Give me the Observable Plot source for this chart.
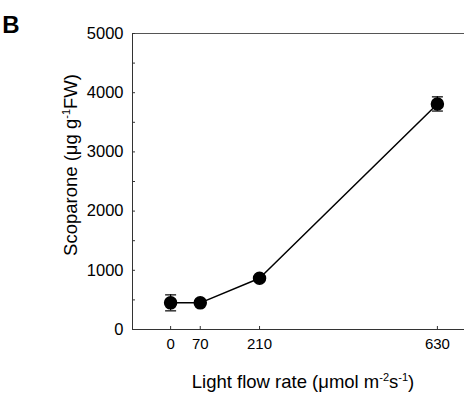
<!DOCTYPE html>
<html>
<head>
<meta charset="utf-8">
<script src="https://cdn.jsdelivr.net/npm/d3@7"></script>
<script src="https://cdn.jsdelivr.net/npm/@observablehq/plot@0.6"></script>
<style>
  html, body { margin: 0; padding: 0; background: #fff; }
  #chart { position: relative; width: 464px; height: 396px; }
  svg { font-family: "Liberation Sans", Arial, Helvetica, sans-serif; }
</style>
</head>
<body>
<div id="chart"></div>
<script>
// Data
const lightRates = [0, 70, 210, 630];
const scoparone = [450, 450, 866, 3810];
const scoparoneErr = [135, 20, 30, 120];
const xTickValues = [0, 70, 210, 630];
const yTickValues = [0, 1000, 2000, 3000, 4000, 5000];
const yMinorTickValues = [0, 500, 1000, 1500, 2000, 2500, 3000, 3500, 4000, 4500, 5000];

const data = lightRates.map((x, i) => ({x, y: scoparone[i], e: scoparoneErr[i]}));

const W = 464, H = 396, mL = 132, mR = 0, mT = 33, mB = 67;
const tickLen = 3;

const capSymbol = {
  draw(context, size) {
    const w = Math.sqrt(size / Math.PI);
    context.moveTo(-w, 0);
    context.lineTo(w, 0);
  }
};

const plot = Plot.plot({
  width: W,
  height: H,
  marginLeft: mL,
  marginRight: mR,
  marginTop: mT,
  marginBottom: mB,
  style: {fontFamily: '"Liberation Sans", Arial, Helvetica, sans-serif', background: "#fff"},
  x: {type: "linear", domain: [-90, 694]},
  y: {domain: [0, 5000]},
  marks: [
    Plot.frame({anchor: "left", stroke: "#333"}),
    Plot.frame({anchor: "bottom", stroke: "#333"}),
    Plot.frame({anchor: "top", stroke: "#555"}),
    Plot.tickY(yMinorTickValues, {y: d => d, stroke: "#333", insetRight: (W - mL - mR) - tickLen}),
    Plot.tickX(xTickValues, {x: d => d, stroke: "#333", insetTop: (H - mT - mB) - tickLen}),
    Plot.axisY({ticks: yTickValues, tickSize: 0, tickPadding: 9, fontSize: 16.5, label: null, tickFormat: d => String(d)}),
    Plot.axisX({ticks: xTickValues, tickSize: 0, tickPadding: 9, fontSize: 15, label: null, tickFormat: d => String(d)}),
    Plot.ruleX(data, {x: "x", y1: d => d.y - d.e, y2: d => d.y + d.e, stroke: "#000", strokeWidth: 1.2}),
    Plot.dot(data, {x: "x", y: d => d.y - d.e, r: 5.5, symbol: capSymbol, stroke: "#000", strokeWidth: 1.2, fill: "none"}),
    Plot.dot(data, {x: "x", y: d => d.y + d.e, r: 5.5, symbol: capSymbol, stroke: "#000", strokeWidth: 1.2, fill: "none"}),
    Plot.line(data, {x: "x", y: "y", stroke: "#000", strokeWidth: 1.5}),
    Plot.dot(data, {x: "x", y: "y", r: 6, fill: "#000", stroke: "#000"})
  ]
});

const svg = d3.select(plot);
// Panel letter
svg.append("text")
  .attr("x", 11).attr("y", 33)
  .attr("font-size", 24).attr("font-weight", "bold")
  .attr("fill", "#000")
  .text("B");

// Y axis title
const yt = svg.append("text")
  .attr("transform", "translate(77,165) rotate(-90)")
  .attr("text-anchor", "middle")
  .attr("font-size", 18.5)
  .attr("fill", "#000");
yt.append("tspan").text("Scoparone (μg g");
yt.append("tspan").attr("font-size", 11).attr("dy", -7).text("-1");
yt.append("tspan").attr("dy", 7).text("FW)");

// X axis title
const xt = svg.append("text")
  .attr("x", 303).attr("y", 388)
  .attr("text-anchor", "middle")
  .attr("font-size", 18.5)
  .attr("fill", "#000");
xt.append("tspan").text("Light flow rate (μmol m");
xt.append("tspan").attr("font-size", 11).attr("dy", -7).text("-2");
xt.append("tspan").attr("dy", 7).text("s");
xt.append("tspan").attr("font-size", 11).attr("dy", -7).text("-1");
xt.append("tspan").attr("dy", 7).text(")");

document.getElementById("chart").appendChild(plot);
</script>
</body>
</html>
